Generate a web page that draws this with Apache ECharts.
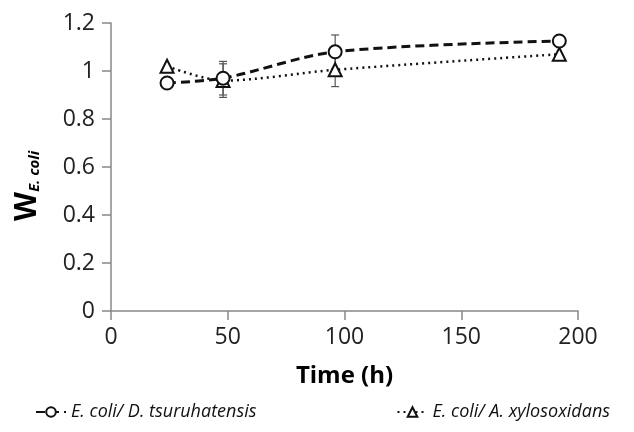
<!DOCTYPE html>
<html><head><meta charset="utf-8">
<script src="https://cdn.jsdelivr.net/npm/echarts@6/dist/echarts.min.js"></script>
<style>html,body{margin:0;padding:0;background:#fff}#c{width:634px;height:432px}</style>
</head><body><div id="c"></div>
<script>
var times = [24, 48, 96, 192];
var seriesNames = ['E. coli/ D. tsuruhatensis', 'E. coli/ A. xylosoxidans'];
var dtValues = [0.95, 0.97, 1.08, 1.125];
var axValues = [1.02, 0.96, 1.005, 1.07];
var dtErr = [0, 0.07, 0.07, 0];
var axErr = [0, 0.07, 0.07, 0];
var xTicks = [0, 50, 100, 150, 200];
var yTicks = [0, 0.2, 0.4, 0.6, 0.8, 1, 1.2];
var xTitle = 'Time (h)';
var yTitleMain = 'W';
var yTitleSub = 'E. coli';

function pairs(xs, ys){ return xs.map(function(x,i){return [x, ys[i]];}); }
function errData(xs, ys, es){
  var out=[]; xs.forEach(function(x,i){ if(es[i]>0) out.push([x, ys[i]-es[i], ys[i]+es[i]]); }); return out;
}
var errAll = errData(times, dtValues, dtErr).concat(errData(times, axValues, axErr));

var chart = echarts.init(document.getElementById('c'));
var font = 'Open Sans';
chart.setOption({
  animation:false,
  grid:{left:111, right:56, top:23, bottom:121},
  graphic:[{type:'text', x:27, y:186, rotation:Math.PI/2,
    style:{text:'{w|'+yTitleMain+'}{s|'+yTitleSub+'}', align:'center', verticalAlign:'middle',
      rich:{
        w:{fontFamily:font, fontWeight:'bold', fontSize:30, fill:'#000', verticalAlign:'bottom'},
        s:{fontFamily:font, fontWeight:'bold', fontStyle:'italic', fontSize:15, fill:'#000', padding:[12,0,0,0], verticalAlign:'bottom'}}}}],
  xAxis:{type:'value', min:0, max:200, interval:50,
    name:xTitle, nameLocation:'middle', nameGap:53,
    nameTextStyle:{fontFamily:font, fontWeight:'bold', fontSize:24, color:'#000'},
    axisLine:{lineStyle:{color:'#888', width:1.5}},
    axisTick:{show:true, length:9, lineStyle:{color:'#888', width:1.5}},
    axisLabel:{fontFamily:font, fontSize:23, color:'#222', margin:15},
    splitLine:{show:false}},
  yAxis:{type:'value', min:0, max:1.2, interval:0.2,
    axisLine:{show:true, lineStyle:{color:'#888', width:1.5}},
    axisTick:{show:true, length:9, lineStyle:{color:'#888', width:1.5}},
    axisLabel:{fontFamily:font, fontSize:23, color:'#222', margin:16},
    splitLine:{show:false}},
  legend:{
    data:seriesNames, bottom:6, left:30, itemGap:140, itemWidth:30, itemHeight:12,
    textStyle:{fontFamily:font, fontStyle:'italic', fontSize:18, color:'#111'}
  },
  series:[
    {type:'custom', name:'err', silent:true, z:1,
      renderItem:function(params, api){
        var x=api.value(0), lo=api.coord([x, api.value(1)]), hi=api.coord([x, api.value(2)]);
        var w=4;
        return {type:'group', children:[
          {type:'line', shape:{x1:lo[0],y1:lo[1],x2:hi[0],y2:hi[1]}, style:{stroke:'#555', lineWidth:1.2}},
          {type:'line', shape:{x1:lo[0]-w,y1:lo[1],x2:lo[0]+w,y2:lo[1]}, style:{stroke:'#555', lineWidth:1.2}},
          {type:'line', shape:{x1:hi[0]-w,y1:hi[1],x2:hi[0]+w,y2:hi[1]}, style:{stroke:'#555', lineWidth:1.2}}
        ]};
      },
      data:errAll},
    {type:'line', name:seriesNames[0], data:pairs(times, dtValues), smooth:0.3, z:3,
      symbol:'emptyCircle', symbolSize:13, showSymbol:true,
      lineStyle:{color:'#111', width:3, type:[9,5]},
      itemStyle:{color:'#111', borderColor:'#111', borderWidth:2}},
    {type:'line', name:seriesNames[1], data:pairs(times, axValues), smooth:0.3, z:2,
      symbol:'emptyTriangle', symbolSize:13, showSymbol:true,
      lineStyle:{color:'#111', width:2.5, type:[2,4]},
      itemStyle:{color:'#111', borderColor:'#111', borderWidth:2}}
  ]
});
</script></body></html>
